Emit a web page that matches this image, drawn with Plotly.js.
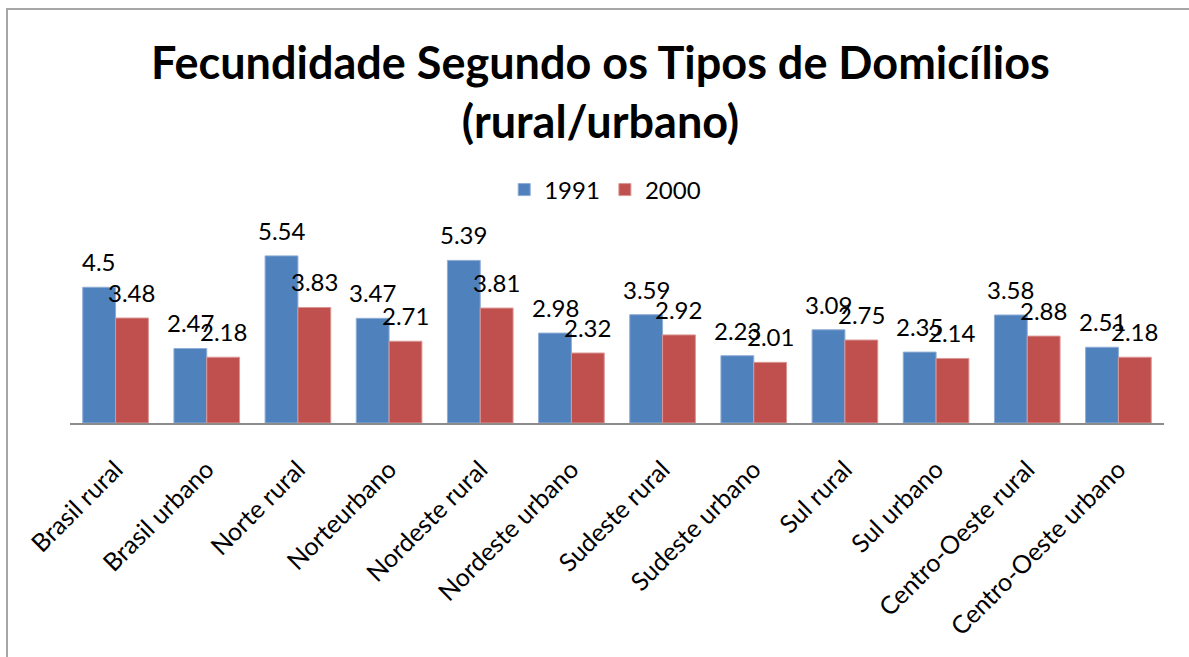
<!DOCTYPE html>
<html>
<head>
<meta charset="utf-8">
<script src="https://cdn.plot.ly/plotly-3.0.1.min.js"></script>
<style>
  html, body { margin: 0; padding: 0; background: #fff; overflow: hidden; }
  #wrap { position: relative; width: 1189px; height: 657px; }
  #chart { position: absolute; left: 0; top: 0; width: 1189px; height: 657px; }
  #frame { position: absolute; left: 6px; top: 8px; width: 1300px; height: 800px;
           border-left: 2px solid #a6a6a6; border-top: 2px solid #a6a6a6; pointer-events: none; }
</style>
</head>
<body>
<div id="wrap"><div id="chart"></div><div id="frame"></div></div>
<script>
const categories = ["Brasil rural", "Brasil urbano", "Norte rural", "Norteurbano", "Nordeste rural",
  "Nordeste urbano", "Sudeste rural", "Sudeste urbano", "Sul rural", "Sul urbano",
  "Centro-Oeste rural", "Centro-Oeste urbano"];
const v1991 = [4.5, 2.47, 5.54, 3.47, 5.39, 2.98, 3.59, 2.23, 3.09, 2.35, 3.58, 2.51];
const v2000 = [3.48, 2.18, 3.83, 2.71, 3.81, 2.32, 2.92, 2.01, 2.75, 2.14, 2.88, 2.18];
const seriesNames = ["1991", "2000"];

const FONT = "Lato, 'Open Sans', sans-serif";
const BARGAP = 0.28;
const off = (1 - BARGAP) / 4;

const traces = [
  { type: "bar", name: seriesNames[0], x: categories, y: v1991,
    marker: { color: "#4F81BD", line: { color: "#8EACD5", width: 1 } }, hoverinfo: "x+y" },
  { type: "bar", name: seriesNames[1], x: categories, y: v2000,
    marker: { color: "#C0504D", line: { color: "#D99694", width: 1 } }, hoverinfo: "x+y" }
];

const annotations = [];
[v1991, v2000].forEach((vals, s) => {
  vals.forEach((v, i) => {
    annotations.push({
      x: i + (s === 0 ? -off : off), y: v, xref: "x", yref: "y",
      text: String(v), showarrow: false, yanchor: "bottom", xanchor: "center",
      yshift: 9, font: { family: FONT, size: 24, color: "#000" }
    });
  });
});

const layout = {
  width: 1189, height: 657,
  margin: { l: 70, r: 25, t: 242, b: 234 },
  paper_bgcolor: "rgba(0,0,0,0)", plot_bgcolor: "rgba(0,0,0,0)",
  font: { family: FONT, color: "#000" },
  title: {
    text: "<b>Fecundidade Segundo os Tipos de Domicílios<br>(rural/urbano)</b>",
    font: { family: FONT, size: 45, color: "#000" },
    x: 0.505, xanchor: "center", xref: "container",
    y: 1 - 79 / 657, yanchor: "top", yref: "container"
  },
  barmode: "group", bargap: BARGAP, bargroupgap: 0,
  showlegend: true,
  legend: {
    orientation: "h", xref: "container", yref: "container",
    x: 0.509, xanchor: "center", y: 1 - 190 / 657, yanchor: "middle",
    font: { family: FONT, size: 24, color: "#000" }, bgcolor: "rgba(0,0,0,0)"
  },
  xaxis: {
    type: "category", showgrid: false, zeroline: false,
    showline: true, linecolor: "#8c8c8c", linewidth: 2,
    ticks: "outside", ticklen: 20, tickcolor: "rgba(0,0,0,0)",
    tickangle: -45, tickfont: { family: FONT, size: 25, color: "#000" },
    automargin: false
  },
  yaxis: { visible: false, range: [0, 6], showgrid: false, zeroline: false, fixedrange: true },
  annotations: annotations
};

Plotly.newPlot("chart", traces, layout, { displayModeBar: false, staticPlot: true });
</script>
</body>
</html>
